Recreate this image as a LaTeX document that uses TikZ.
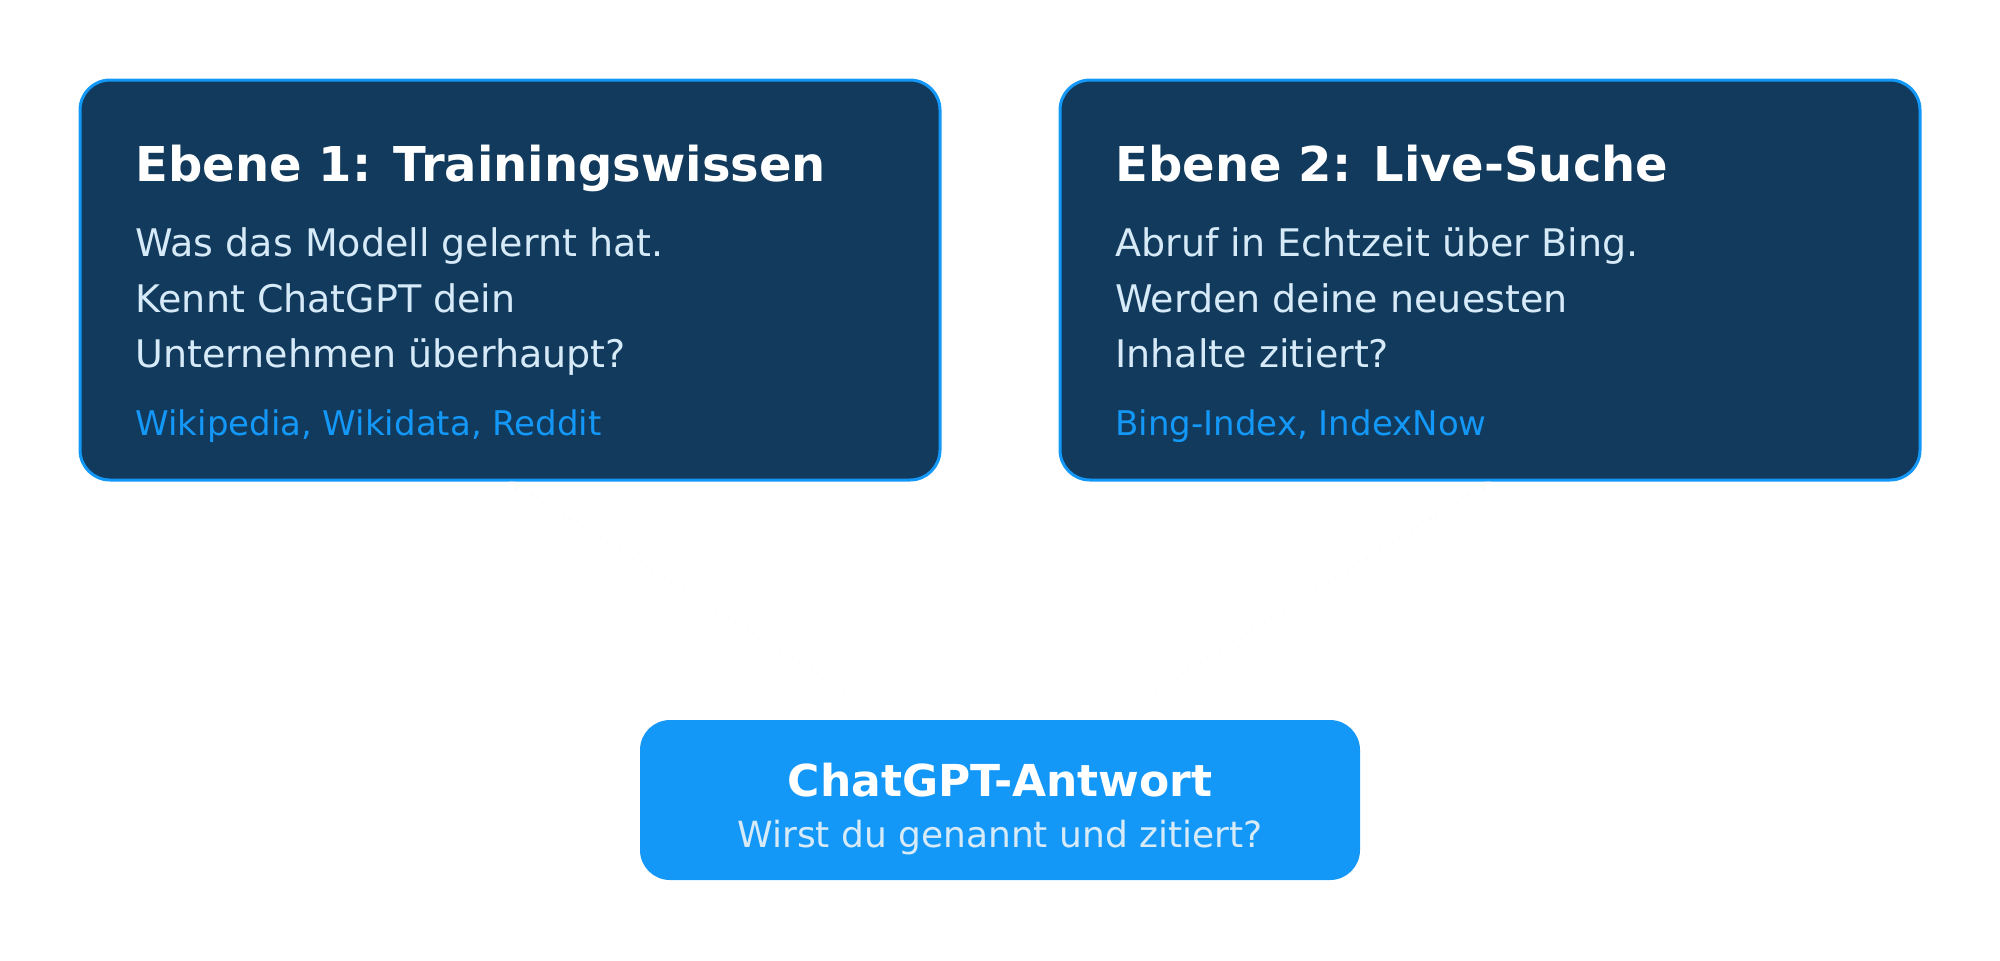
\documentclass[tikz,border=0pt]{standalone}
\usepackage{fontspec}
\setmainfont{DejaVu Sans}
\usepackage{xcolor}
\usetikzlibrary{positioning, arrows.meta}
\definecolor{layerbg}{HTML}{113A5D}
\definecolor{accent}{HTML}{1498F8}
\definecolor{bodytxt}{HTML}{D6EAF8}
\definecolor{ghost}{HTML}{FCFCF8}

\begin{document}
\begin{tikzpicture}[x=1pt, y=-1pt,
    layer/.style={rectangle, draw=accent, line width=1.2pt, fill=layerbg, rounded corners=12pt,
                  minimum width=344pt, minimum height=160pt, inner sep=0pt},
    answer/.style={rectangle, fill=accent, rounded corners=12pt,
                   minimum width=288pt, minimum height=64pt, inner sep=0pt},
    ttl/.style={anchor=base west, inner sep=0pt, text=white, font=\fontsize{19.2}{22}\selectfont\bfseries},
    txt/.style={anchor=base west, inner sep=0pt, text=bodytxt, font=\fontsize{15.2}{18}\selectfont},
    src/.style={anchor=base west, inner sep=0pt, text=accent, font=\fontsize{13.6}{16}\selectfont},
    link/.style={-{Triangle[length=4pt, width=4pt]}, draw=ghost, line width=0.8pt, dash pattern=on 1pt off 2pt}
  ]
  \useasboundingbox (0,0) rectangle (800,384);

  % Ebene 1
  \node[layer] (train) at (204,112) {};
  \node[ttl] (trainTitle) at (54,72.5)  {Ebene 1: Trainingswissen};
  \node[txt] (trainA)     at (54,102.5) {Was das Modell gelernt hat.};
  \node[txt] (trainB)     at (54,124.8) {Kennt ChatGPT dein};
  \node[txt] (trainC)     at (54,147.1) {Unternehmen überhaupt?};
  \node[src] (trainSrc)   at (54,174)   {Wikipedia, Wikidata, Reddit};

  % Ebene 2
  \node[layer] (live) at (596,112) {};
  \node[ttl] (liveTitle) at (446,72.5)  {Ebene 2: Live-Suche};
  \node[txt] (liveA)     at (446,102.5) {Abruf in Echtzeit über Bing.};
  \node[txt] (liveB)     at (446,124.8) {Werden deine neuesten};
  \node[txt] (liveC)     at (446,147.1) {Inhalte zitiert?};
  \node[src] (liveSrc)   at (446,174)   {Bing-Index, IndexNow};

  % Antwort
  \node[answer] (answer) at (400,320) {};
  \node[anchor=base, inner sep=0pt, text=white, font=\fontsize{17.6}{20}\selectfont\bfseries]
       (answerTitle) at (400,318.4) {ChatGPT-Antwort};
  \node[anchor=base, inner sep=0pt, text=bodytxt, font=\fontsize{14.4}{17}\selectfont]
       (answerSub) at (400,338.9) {Wirst du genannt und zitiert?};

  \coordinate (fromL) at (342.8,279.2);
  \coordinate (fromR) at (457.2,279.2);
  \draw[link] (fromL) -- (train.south);
  \draw[link] (fromR) -- (live.south);
\end{tikzpicture}
\end{document}
